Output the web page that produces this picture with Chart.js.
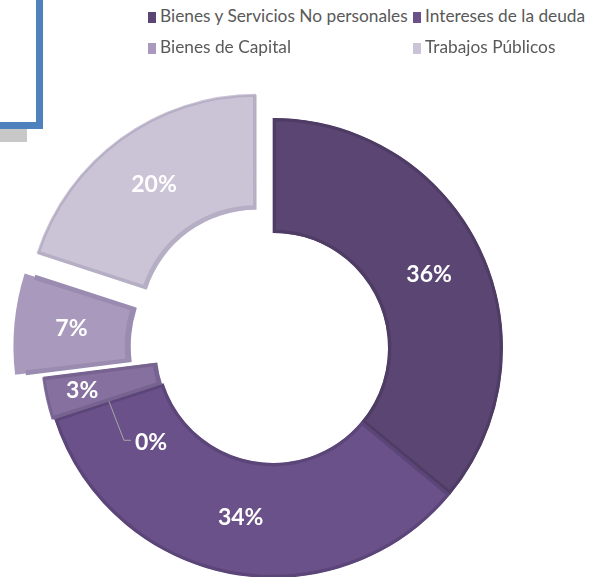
<!DOCTYPE html>
<html>
<head>
<meta charset="utf-8">
<script src="https://cdn.jsdelivr.net/npm/chart.js@4/dist/chart.umd.min.js"></script>
<style>
  html, body { margin: 0; padding: 0; background: #fff; }
  body { width: 593px; height: 577px; overflow: hidden; position: relative; font-family: Lato, "Open Sans", sans-serif; }
  #frame { position: absolute; left: -20px; top: -20px; width: 49px; height: 135px; border: 7px solid #4f81bd; background: #fff; z-index: 2; }
  #shadow { position: absolute; left: 0; top: 128px; width: 27px; height: 14px; background: #c8c8c8; z-index: 1; }
  #chart { position: absolute; left: 0; top: 48px; z-index: 0; }
  #legend { position: absolute; left: 0; top: 0; z-index: 3; }
  .item { position: absolute; font-size: 17.3px; color: #595959; white-space: nowrap; line-height: 20px; }
  .item i { display: inline-block; width: 8px; height: 11px; margin-right: 4px; vertical-align: -1px; }
</style>
</head>
<body>
<div id="frame"></div>
<div id="shadow"></div>
<canvas id="chart" width="546" height="600"></canvas>
<div id="legend"></div>
<script>
// categories, in slice order (clockwise from 12 o'clock)
const categories = [
  'Bienes y Servicios No personales',
  'Intereses de la deuda',
  'Transferencias',
  'Gastos en Personal',
  'Bienes de Capital',
  'Trabajos Públicos'
];
const values = [36, 34, 0, 3, 7, 20];
const fillColors = ['#5b4673', '#6b5189', '#7a6396', '#85709f', '#a99abd', '#cbc4d6'];
const edgeColors = ['#4e3c65', '#5c4679', '#6c5788', '#77638f', '#9a8bb0', '#b6aec4'];
// how far each slice is pulled out, in px
const explode = [0, 0, 0, 3, 30, 30];
// entries visible in the (cropped) legend
const legendShown = ['Bienes y Servicios No personales', 'Intereses de la deuda', 'Bienes de Capital', 'Trabajos Públicos'];

const total = values.reduce((a, b) => a + b, 0);

// chart.js moves an arc by offset/4 * (1 + (1 - sin(circumference))), so undo that
const arcOffsets = values.map((v, i) => {
  const circ = v / total * Math.PI * 2;
  const fix = 1 - Math.sin(Math.min(Math.PI, circ));
  return explode[i] ? explode[i] * 4 / (1 + fix) : 0;
});

// html legend
const legendPos = [[148, 6], [413, 6], [148, 37], [413, 37]];
const legendEl = document.getElementById('legend');
legendShown.forEach((name, k) => {
  const i = categories.indexOf(name);
  const d = document.createElement('div');
  d.className = 'item';
  d.style.left = legendPos[k][0] + 'px';
  d.style.top = legendPos[k][1] + 'px';
  d.innerHTML = '<i style="background:' + fillColors[i] + '"></i>' + name;
  legendEl.appendChild(d);
});

const sliceLabels = {
  id: 'sliceLabels',
  afterDatasetsDraw(chart, args, opts) {
    const ctx = chart.ctx;
    const arcs = chart.getDatasetMeta(0).data;
    ctx.save();
    ctx.font = 'bold 23px Lato, "Open Sans", sans-serif';
    ctx.fillStyle = '#ffffff';
    ctx.textBaseline = 'middle';
    arcs.forEach((arc, i) => {
      const p = arc.getProps(['x', 'y', 'startAngle', 'endAngle', 'innerRadius', 'outerRadius'], true);
      const mid = (p.startAngle + p.endAngle) / 2;
      const nudge = opts.nudge[i] || {};
      const r = (p.innerRadius + p.outerRadius) / 2 + explode[i] + (nudge.radial || 0);
      const ax = p.x + Math.cos(mid) * r;
      const ay = p.y + Math.sin(mid) * r;
      const txt = Math.round(values[i] / total * 100) + '%';
      if (nudge.leader) {
        const lx = ax + nudge.dx, ly = ay + nudge.dy;
        ctx.strokeStyle = '#a6a6a6';
        ctx.lineWidth = 1;
        ctx.beginPath();
        ctx.moveTo(ax, ay);
        ctx.lineTo(lx - 7, ly);
        ctx.lineTo(lx, ly);
        ctx.stroke();
        ctx.textAlign = 'left';
        ctx.fillText(txt, lx + 4, ly + 2);
      } else {
        ctx.textAlign = 'center';
        ctx.fillText(txt, ax, ay);
      }
    });
    ctx.restore();
  }
};

new Chart(document.getElementById('chart').getContext('2d'), {
  type: 'doughnut',
  data: {
    labels: categories,
    datasets: [{
      data: values,
      backgroundColor: fillColors,
      borderColor: edgeColors,
      borderWidth: 3,
      borderAlign: 'inner',
      offset: arcOffsets,
      hoverOffset: 0
    }]
  },
  options: {
    responsive: false,
    animation: false,
    radius: 230,
    cutout: '50%',
    layout: { padding: 0 },
    plugins: {
      legend: { display: false },
      tooltip: { enabled: false },
      sliceLabels: {
        nudge: {
          2: { leader: true, dx: 22, dy: 39 },
          3: { radial: 20 }
        }
      }
    }
  },
  plugins: [sliceLabels]
});
</script>
</body>
</html>
